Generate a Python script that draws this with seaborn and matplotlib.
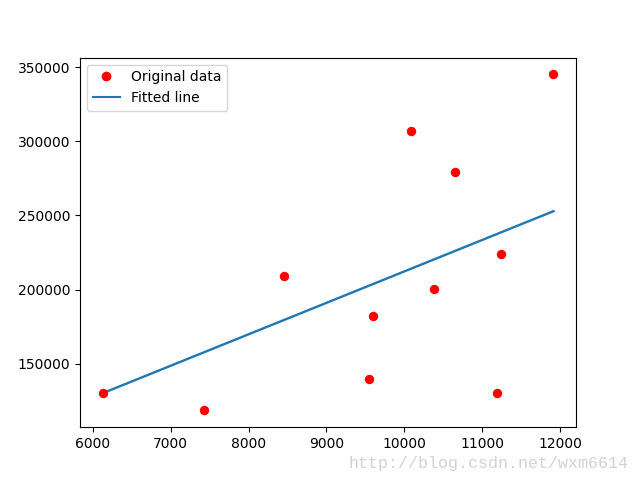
import matplotlib
matplotlib.use("Agg")
import matplotlib.pyplot as plt
from matplotlib.lines import Line2D
import seaborn as sns
import numpy as np

# Data
x_data = [6125, 7428, 8457, 9550, 9601, 10086, 10386, 10656, 11192, 11248, 11916]
y_data = [130000, 118400, 208800, 139900, 182000, 307000, 200200, 279500, 130000, 223800, 345200]

# Fitted line parameters
W = 21.22
b = 0.0

x_arr = np.array(x_data, dtype=float)
fitted = W * x_arr + b

fig, ax = plt.subplots(figsize=(6.4, 4.8), dpi=100)

sns.scatterplot(x=x_data, y=y_data, color="red", s=46, edgecolor="red",
                linewidth=0, ax=ax, zorder=3)
sns.lineplot(x=x_data, y=fitted, color="#1f77b4", linewidth=1.7,
             ax=ax, zorder=2)

handles = [
    Line2D([], [], color="red", marker="o", linestyle="none", markersize=6),
    Line2D([], [], color="#1f77b4", linewidth=1.5),
]
ax.legend(handles, ["Original data", "Fitted line"], loc="upper left")

fig.text(348 / 640, 1 - 468 / 480, "http://blog.csdn.net/wxm6614",
         family="Liberation Mono", fontsize=12, color="#d3d3d3",
         ha="left", va="baseline")

fig.savefig("out.png", dpi=100)
